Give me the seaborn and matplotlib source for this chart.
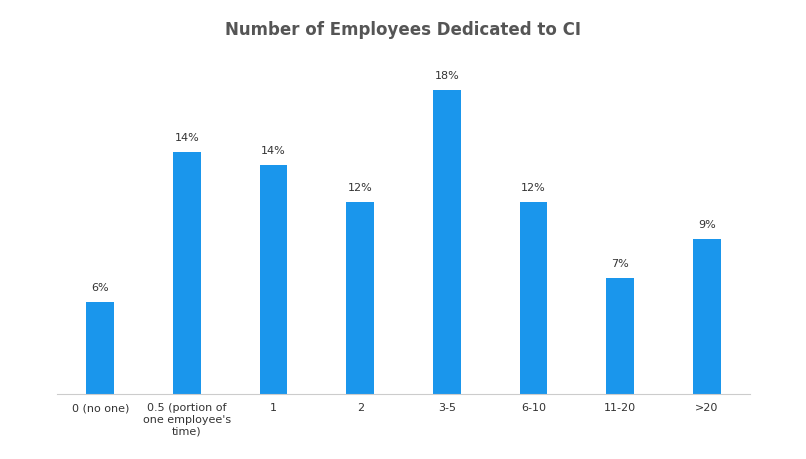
import matplotlib
matplotlib.use("Agg")
import matplotlib.pyplot as plt
import seaborn as sns
import pandas as pd

categories = ["0 (no one)", "0.5 (portion of\none employee's\ntime)", "1", "2", "3-5", "6-10", "11-20", ">20"]
values = [5.45, 14.3, 13.55, 11.35, 18.0, 11.35, 6.85, 9.15]
labels = ["6%", "14%", "14%", "12%", "18%", "12%", "7%", "9%"]

df = pd.DataFrame({"cat": categories, "val": values})
fig = plt.figure(figsize=(8.06, 4.6), dpi=100)
ax = fig.add_axes([0.0707, 0.141, 0.86, 0.728])
sns.barplot(data=df, x="cat", y="val", color="#1a96ec", width=0.32, saturation=1, ax=ax)
ax.set_xlim(-0.5, 7.5)
ax.set_ylim(0, 19.8)
for i, (v, l) in enumerate(zip(values, labels)):
    ax.text(i, v + 0.6, l, ha="center", va="bottom", fontsize=8, color="#333333")
for s in ["top", "right", "left"]:
    ax.spines[s].set_visible(False)
ax.spines["bottom"].set_color("#cccccc")
ax.set_yticks([])
ax.set_xlabel("")
ax.set_ylabel("")
ax.tick_params(axis="x", length=0, labelsize=8, colors="#333333", pad=6)
fig.text(0.5, 0.935, "Number of Employees Dedicated to CI", ha="center", va="center",
         fontsize=12, fontweight="bold", color="#555555")
fig.savefig("out.png", dpi=100)
